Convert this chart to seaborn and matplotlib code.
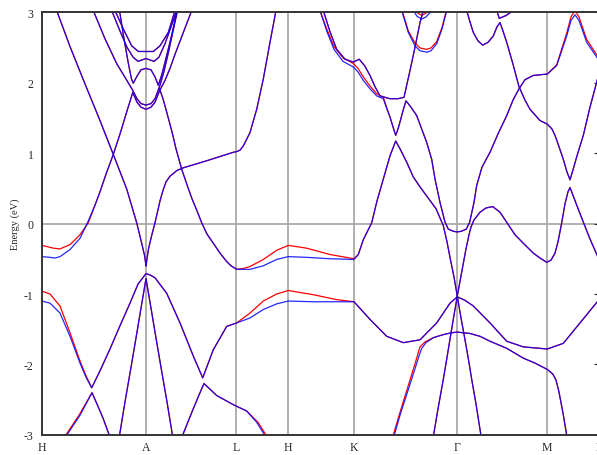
import matplotlib
matplotlib.use('Agg')
import matplotlib.pyplot as plt
import seaborn as sns

# k-path (arbitrary path-length units) and labels of the high-symmetry points
kpoints = [0, 104, 194, 246.3, 312, 415.5, 505.3, 557.6]
klabels = ['H', 'A', 'L', 'H', 'K', 'Γ', 'M', 'L']

# bands as (k, E[eV]); spin up = red, spin down = blue
cone_a_left = [(14.7, 3.02), (28, 2.51), (43, 1.98), (58, 1.46), (71.3, 0.98), (84.7, 0.49),
               (94.7, 0.01), (99.7, -0.28), (102.5, -0.45), (104, -0.60)]
cone_a_right = [(104, -0.60), (106.5, -0.36), (109.5, -0.18), (113, 0.01), (118, 0.32), (121, 0.47),
                (124, 0.59), (128, 0.67), (134.7, 0.75), (141.3, 0.79), (153, 0.84), (164.7, 0.89),
                (178, 0.95), (191.3, 1.01), (194.7, 1.02), (198, 1.04), (201.3, 1.10), (208, 1.29),
                (214.7, 1.62), (221.3, 2.05), (228, 2.57), (233.7, 3.00), (235, 3.10)]
band_h_low_dn = [(0, -0.47), (8, -0.48), (13, -0.49), (18, -0.47), (28, -0.37), (38, -0.21),
                 (45.5, 0.01), (53, 0.26), (58, 0.45), (64, 0.70), (71.3, 0.98), (78, 1.27),
                 (84, 1.55), (89.7, 1.81), (90.7, 1.86), (95, 1.72), (99, 1.65), (104, 1.62),
                 (109, 1.65), (113, 1.72), (117.5, 1.88), (123, 2.03), (128, 2.20), (133, 2.40),
                 (140, 2.66), (149.7, 3.02)]
band_h_low_up = [(0, -0.31), (11.3, -0.35), (18, -0.36), (28, -0.30), (38, -0.16), (46.3, 0.01),
                 (53, 0.26), (58, 0.45), (64, 0.70), (71.3, 0.98), (78, 1.27), (84, 1.55),
                 (89.7, 1.81), (90.7, 1.86), (95, 1.72), (99, 1.65), (104, 1.62), (109, 1.65),
                 (113, 1.72), (117.5, 1.88), (123, 2.03), (128, 2.20), (133, 2.40), (140, 2.66),
                 (149.7, 3.02)]
arc_168 = [(51.3, 3.02), (63, 2.62), (75, 2.26), (84, 2.05), (90.7, 1.89), (95, 1.77), (99, 1.70),
           (104, 1.68), (109, 1.70), (113, 1.77), (118, 1.96), (122, 2.16), (126.5, 2.43),
           (131, 2.73), (135.5, 3.02)]
band_m219 = [(77.5, 3.02), (82, 2.62), (86.5, 2.26), (89.5, 2.05), (91.3, 1.99), (95, 2.09),
             (99, 2.18), (104, 2.20), (109, 2.18), (113, 2.08), (116.3, 1.96), (120, 2.12),
             (125, 2.40), (130, 2.69), (135, 3.02)]
band_w230 = [(69.7, 3.02), (78, 2.73), (85, 2.50), (91, 2.36), (96, 2.30), (100, 2.32), (104, 2.34),
             (108, 2.32), (112, 2.30), (117, 2.36), (123, 2.55), (129, 2.79), (134.7, 3.02)]
band_u244 = [(73, 3.02), (81.3, 2.76), (89.7, 2.52), (96.3, 2.44), (104, 2.44), (111.3, 2.44),
             (118, 2.52), (126.3, 2.71), (133, 3.02)]
band_lhk_dn = [(117.5, 1.91), (121, 1.77), (124.7, 1.58), (130, 1.30), (134, 1.06), (139.7, 0.77),
               (145, 0.55), (150, 0.35), (155, 0.18), (159.7, 0.01), (165, -0.15), (171.3, -0.28),
               (178, -0.42), (184.7, -0.54), (189, -0.60), (194.7, -0.65), (201, -0.65), (208, -0.65),
               (221.3, -0.60), (234.7, -0.51), (246.3, -0.47), (264.7, -0.48), (288, -0.50),
               (312, -0.51), (316.3, -0.44), (321.3, -0.23), (329.7, 0.01), (335, 0.32), (341.3, 0.63),
               (348, 0.96), (353.7, 1.17), (358, 1.06), (364.7, 0.87), (371.3, 0.66), (378, 0.52),
               (384.7, 0.39), (394, 0.21), (401.3, -0.03), (405, -0.26), (408, -0.48), (412, -0.76),
               (415.3, -1.03), (418.5, -1.30), (422, -1.57), (426, -1.89), (429.7, -2.21),
               (434, -2.56), (439, -3.01), (440, -3.10)]
band_lhk_up = [(117.5, 1.91), (121, 1.77), (124.7, 1.58), (130, 1.30), (134, 1.06), (139.7, 0.77),
               (145, 0.55), (150, 0.35), (155, 0.18), (159.7, 0.01), (165, -0.15), (171.3, -0.28),
               (178, -0.42), (184.7, -0.54), (189, -0.60), (194.7, -0.65), (201, -0.64), (208, -0.61),
               (221.3, -0.51), (234.7, -0.38), (246.3, -0.31), (264.7, -0.35), (288, -0.44),
               (312, -0.50), (316.3, -0.44), (321.3, -0.23), (329.7, 0.01), (335, 0.32), (341.3, 0.63),
               (348, 0.96), (353.7, 1.17), (358, 1.06), (364.7, 0.87), (371.3, 0.66), (378, 0.52),
               (384.7, 0.39), (394, 0.21), (401.3, -0.03), (405, -0.26), (408, -0.48), (412, -0.76),
               (415.3, -1.03), (418.5, -1.30), (422, -1.57), (426, -1.89), (429.7, -2.21),
               (434, -2.56), (439, -3.01), (440, -3.10)]
band_deep_dn = [(0, -1.10), (8, -1.13), (18, -1.27), (28, -1.60), (38, -1.98), (44, -2.18),
                (49.7, -2.33), (58, -2.09), (68, -1.78), (78, -1.45), (88, -1.13), (96, -0.86),
                (104, -0.71), (108, -0.73), (113, -0.77), (124.7, -0.99), (138, -1.41), (151.3, -1.88),
                (160.7, -2.19), (171.3, -1.79), (184.7, -1.46), (194.7, -1.41), (208, -1.34),
                (221.3, -1.22), (234.7, -1.14), (246.3, -1.10), (271.3, -1.11), (312, -1.11),
                (328, -1.36), (344.7, -1.60), (361.3, -1.69), (378, -1.65), (394.7, -1.41),
                (408, -1.13), (415.3, -1.04), (423, -1.09), (431.3, -1.17), (448, -1.41),
                (464.7, -1.67), (481.3, -1.75), (505.3, -1.78), (521.3, -1.70), (538, -1.41),
                (557.6, -1.07)]
band_deep_up = [(0, -0.96), (8, -1.00), (18, -1.17), (28, -1.55), (38, -1.95), (44, -2.16),
                (49.7, -2.33), (58, -2.09), (68, -1.78), (78, -1.45), (88, -1.13), (96, -0.86),
                (104, -0.71), (108, -0.73), (113, -0.77), (124.7, -0.99), (138, -1.41), (151.3, -1.88),
                (160.7, -2.19), (171.3, -1.79), (184.7, -1.46), (194.7, -1.41), (208, -1.27),
                (221.3, -1.10), (234.7, -1.00), (246.3, -0.95), (271.3, -1.01), (294.7, -1.08),
                (312, -1.11), (328, -1.36), (344.7, -1.60), (361.3, -1.69), (378, -1.65),
                (394.7, -1.41), (408, -1.13), (415.3, -1.04), (423, -1.09), (431.3, -1.17),
                (448, -1.41), (464.7, -1.67), (481.3, -1.75), (505.3, -1.78), (521.3, -1.70),
                (538, -1.41), (557.6, -1.07)]
inner_cone_a = [(77, -3.05), (83, -2.53), (89, -2.04), (95, -1.54), (99, -1.20), (102, -0.95),
                (104, -0.78), (106, -0.95), (109, -1.20), (113, -1.54), (119, -2.04), (125, -2.53),
                (131, -3.05)]
lambda_ha_dn = [(22.5, -3.05), (30, -2.89), (38, -2.72), (44, -2.56), (50, -2.40), (55, -2.56),
                (61, -2.76), (68.5, -3.05)]
lambda_ha_up = [(21.5, -3.05), (29, -2.89), (37, -2.72), (43.5, -2.56), (50, -2.40), (55, -2.56),
                (61, -2.76), (68.5, -3.05)]
lambda_al_dn = [(139.3, -3.05), (150.9, -2.64), (158, -2.40), (162, -2.27), (165, -2.31),
                (174.7, -2.44), (191.3, -2.57), (204.7, -2.66), (214.7, -2.82), (223, -3.01),
                (224, -3.05)]
lambda_al_up = [(139.3, -3.05), (150.9, -2.64), (158, -2.40), (162, -2.27), (165, -2.31),
                (174.7, -2.44), (191.3, -2.57), (204.7, -2.66), (216, -2.82), (224.5, -3.01),
                (225.5, -3.05)]
band_k_top1 = [(281.3, 3.02), (288, 2.72), (294.7, 2.47), (303, 2.33), (311.3, 2.29), (317.3, 2.33),
               (323, 2.23), (328, 2.10), (333, 1.94), (338, 1.81), (348, 1.77), (356, 1.77),
               (362, 1.79), (368, 2.17), (373, 2.50), (378, 2.85), (381.3, 3.02)]
band_k_top2_dn = [(278, 3.02), (285, 2.72), (292, 2.47), (301, 2.30), (311.3, 2.22), (316, 2.15),
                  (321.3, 2.03), (328, 1.91), (334.7, 1.81), (341.3, 1.77), (345, 1.62), (348, 1.51),
                  (351, 1.37), (353.7, 1.25), (356, 1.34), (358, 1.44), (361, 1.60), (364, 1.74),
                  (369, 1.65), (374.7, 1.53), (384.7, 1.15), (389.7, 0.91), (393, 0.63), (398, 0.30),
                  (403, 0.02), (406.3, -0.08), (411.3, -0.11), (415.3, -0.12), (419.3, -0.11),
                  (424.3, -0.08), (427.7, 0.02), (432, 0.30), (434.7, 0.54), (440, 0.80), (448, 1.01),
                  (456, 1.27), (464.7, 1.53), (471, 1.75), (477, 1.91), (483, 2.04), (491.3, 2.10),
                  (505.3, 2.12), (514.7, 2.24), (524.7, 2.66), (529, 2.88), (533, 2.96), (537, 2.88),
                  (544.7, 2.57), (557.6, 2.30)]
band_k_top2_up = [(278, 3.02), (285, 2.75), (292, 2.51), (301, 2.35), (311.3, 2.27), (316, 2.20),
                  (321.3, 2.08), (328, 1.95), (334.7, 1.84), (341.3, 1.79), (345, 1.63), (348, 1.51),
                  (351, 1.37), (353.7, 1.25), (356, 1.34), (358, 1.44), (361, 1.60), (364, 1.74),
                  (369, 1.65), (374.7, 1.53), (384.7, 1.15), (389.7, 0.91), (393, 0.63), (398, 0.30),
                  (403, 0.02), (406.3, -0.08), (411.3, -0.11), (415.3, -0.12), (419.3, -0.11),
                  (424.3, -0.08), (427.7, 0.02), (432, 0.30), (434.7, 0.54), (440, 0.80), (448, 1.01),
                  (456, 1.27), (464.7, 1.53), (471, 1.75), (477, 1.91), (483, 2.04), (491.3, 2.10),
                  (505.3, 2.12), (514.7, 2.25), (524.7, 2.70), (529, 2.93), (533, 3.02), (537, 2.93),
                  (544.7, 2.61), (557.6, 2.33)]
band_gm_top = [(424.7, 3.02), (428, 2.86), (431.3, 2.71), (436, 2.59), (440.7, 2.53), (446, 2.57),
               (451.3, 2.66), (455, 2.79), (458, 2.85), (461, 2.73), (464.7, 2.57), (471, 2.26),
               (477, 1.94), (483, 1.75), (488, 1.62), (498, 1.46), (505.3, 1.41), (510, 1.34),
               (513, 1.25), (517, 1.09), (521.3, 0.91), (525, 0.73), (528, 0.62), (531, 0.76),
               (535, 0.96), (541.3, 1.25), (548, 1.65), (557.6, 2.16)]
small_v_top = [(454.7, 3.02), (457.3, 2.91), (464, 2.95), (471.3, 3.02)]
band_gamma_x = [(391, -3.05), (395.5, -2.67), (401.3, -2.21), (405, -1.90), (408, -1.64),
                (411.5, -1.34), (415.3, -1.03), (418, -0.82), (421, -0.59), (424, -0.36),
                (427, -0.16), (429, -0.05), (432, 0.05), (438, 0.16), (444, 0.22), (450.7, 0.24),
                (458, 0.16), (466, -0.01), (473, -0.16), (481.3, -0.28), (491.3, -0.42), (498, -0.49),
                (504.7, -0.55), (509, -0.52), (513, -0.42), (516, -0.26), (519.7, 0.01), (523, 0.28),
                (526, 0.45), (528, 0.51), (531, 0.40), (535, 0.25), (541.3, 0.02), (548, -0.22),
                (557.6, -0.53)]
band_g154_dn = [(351.3, -3.05), (358, -2.72), (363, -2.50), (368, -2.28), (373, -2.06),
                (376.5, -1.90), (379.7, -1.77), (384, -1.69), (391.3, -1.62), (398, -1.59),
                (403, -1.57), (409.7, -1.55), (415.3, -1.54), (421, -1.55), (428, -1.56), (438, -1.60),
                (448, -1.67), (464.7, -1.77), (481.3, -1.91), (493, -1.98), (505.3, -2.07),
                (508, -2.10), (511, -2.14), (514, -2.22), (517, -2.39), (521, -2.69), (525.5, -3.07)]
band_g154_up = [(350.3, -3.05), (356.7, -2.74), (362.5, -2.47), (368, -2.22), (373, -1.99),
                (378, -1.75), (383, -1.68), (391.3, -1.62), (398, -1.59), (403, -1.57), (409.7, -1.55),
                (415.3, -1.54), (421, -1.55), (428, -1.56), (438, -1.60), (448, -1.67), (464.7, -1.77),
                (481.3, -1.91), (493, -1.98), (505.3, -2.07), (508, -2.10), (511, -2.14), (514, -2.22),
                (517, -2.39), (521, -2.69), (525.5, -3.07)]
u_kg_dn = [(359.7, 3.02), (366.3, 2.71), (373, 2.52), (378, 2.45), (384.7, 2.43), (389, 2.45),
           (394.7, 2.55), (400, 2.76), (404.7, 3.02)]
u_kg_up = [(359.7, 3.04), (366.3, 2.73), (373, 2.56), (378, 2.49), (384.7, 2.47), (389, 2.49),
           (394.7, 2.58), (400, 2.78), (404.7, 3.04)]
tiny_u_dn = [(371.3, 3.02), (375, 2.94), (379.7, 2.90), (384, 2.93), (389.7, 3.02)]
tiny_u_up = [(372, 3.02), (379.7, 2.95), (388, 3.02)]

# bands where both spin channels coincide
common_bands = [cone_a_left, cone_a_right, arc_168, band_m219, band_w230, band_u244, inner_cone_a,
                band_k_top1, band_gm_top, small_v_top, band_gamma_x]
up_bands = [band_h_low_up, band_lhk_up, band_deep_up, lambda_ha_up, lambda_al_up, band_k_top2_up,
            band_g154_up, u_kg_up, tiny_u_up]
dn_bands = [band_h_low_dn, band_lhk_dn, band_deep_dn, lambda_ha_dn, lambda_al_dn, band_k_top2_dn,
            band_g154_dn, u_kg_dn, tiny_u_dn]

sns.set_style('white')
plt.rcParams['font.family'] = ['Liberation Serif', 'DejaVu Serif']

fig = plt.figure(figsize=(5.97, 4.56), dpi=100)
ax = fig.add_axes([0.07035, 0.04386, 557.6 / 597, 0.92763])


def draw_band(points, color, alpha=1.0):
    k, e = zip(*points)
    sns.lineplot(x=list(k), y=list(e), sort=False, estimator=None, color=color,
                 lw=0.9, alpha=alpha, ax=ax)


# grid at high-symmetry points and the Fermi level
for kp in kpoints[1:-1]:
    ax.axvline(kp, color='#aaaaaa', lw=1.3, zorder=0)
ax.axhline(0, color='#aaaaaa', lw=1.3, zorder=0)

for band in common_bands + up_bands:
    draw_band(band, '#ff0000')
for band in common_bands + dn_bands:
    draw_band(band, '#0000ff', alpha=0.85)

ax.set_xlim(kpoints[0], kpoints[-1])
ax.set_ylim(-3, 3)
ax.set_xticks(kpoints)
ax.set_xticklabels(klabels, fontsize=8.5)
ax.set_yticks([-3, -2, -1, 0, 1, 2, 3])
ax.set_yticklabels(['-3', '-2', '-1', '0', '1', '2', '3'], fontsize=8.5)
ax.tick_params(axis='x', length=0, pad=4)
ax.tick_params(axis='y', direction='in', length=4, width=0.8, right=True, pad=6)
ax.set_ylabel('Energy (eV)', fontsize=7.5, labelpad=3)
ax.set_xlabel('')

for side in ['left', 'top', 'bottom', 'right']:
    ax.spines[side].set_color('#333333')
    ax.spines[side].set_linewidth(1.4)

fig.savefig('out.png', dpi=100)
